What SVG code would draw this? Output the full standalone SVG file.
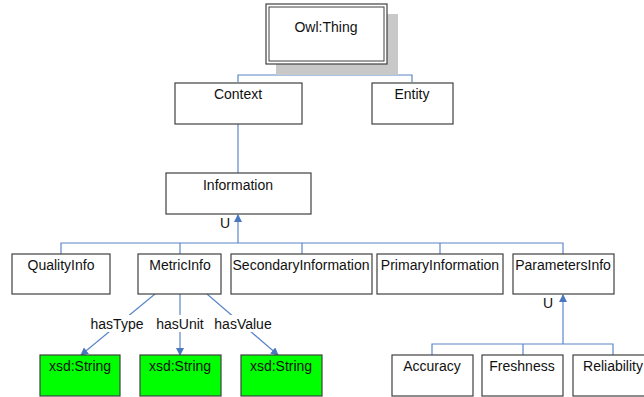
<svg xmlns="http://www.w3.org/2000/svg" width="644" height="397" viewBox="0 0 644 397">
<defs>
<style>
.box{fill:#fff;stroke:#404040;stroke-width:1.2}
.green{fill:#00ff00;stroke:#404040;stroke-width:1.2}
.t{font-family:"Liberation Sans",Arial,sans-serif;font-size:14px;fill:#111;text-anchor:middle}
.lbl{font-family:"Liberation Sans",Arial,sans-serif;font-size:14px;fill:#111;text-anchor:middle}
.c{fill:none;stroke:#5b86c8;stroke-width:1.2}
</style>
<marker id="ah" markerWidth="8" markerHeight="8" refX="7" refY="4" orient="auto" markerUnits="userSpaceOnUse">
<path d="M0,0 L8,4 L0,8 Z" fill="#4a78c0"/>
</marker>
</defs>
<rect width="644" height="397" fill="#fff"/>
<g id="connectors">
<polyline class="c" points="238,82 238,75 412,75 412,82"/>
<line class="c" x1="326" y1="75" x2="326" y2="65" marker-end="url(#ah)"/>
<line class="c" x1="238" y1="124" x2="238" y2="173"/>
<polyline class="c" points="61,254 61,243 563,243 563,254"/>
<line class="c" x1="180" y1="243" x2="180" y2="254"/>
<line class="c" x1="302" y1="243" x2="302" y2="254"/>
<line class="c" x1="440" y1="243" x2="440" y2="254"/>
<line class="c" x1="238" y1="243" x2="238" y2="215" marker-end="url(#ah)"/>
<polyline class="c" points="432,355 432,344 613,344 613,355"/>
<line class="c" x1="523" y1="344" x2="523" y2="355"/>
<line class="c" x1="563" y1="344" x2="563" y2="295" marker-end="url(#ah)"/>
<line class="c" x1="155" y1="294" x2="81" y2="355" marker-end="url(#ah)"/>
<line class="c" x1="180" y1="294" x2="180" y2="355" marker-end="url(#ah)"/>
<line class="c" x1="207" y1="294" x2="278" y2="355" marker-end="url(#ah)"/>
<rect x="88" y="315" width="58" height="17" fill="#fff"/>
<rect x="154" y="315" width="52" height="17" fill="#fff"/>
<rect x="212" y="315" width="62" height="17" fill="#fff"/>
<text class="lbl" x="117" y="329">hasType</text>
<text class="lbl" x="180" y="329">hasUnit</text>
<text class="lbl" x="243" y="329">hasValue</text>
<text class="lbl" x="225" y="228">U</text>
<text class="lbl" x="548" y="308">U</text>
</g>
<g id="owlthing">
<rect x="276" y="14" width="122" height="61" fill="#c8c8c8"/>
<rect class="box" x="266" y="4" width="121" height="60"/>
<rect x="269" y="7" width="115" height="54" fill="none" stroke="#404040" stroke-width="1"/>
<text class="t" x="326" y="32">Owl:Thing</text>
</g>
<g id="context"><rect class="box" x="175" y="83" width="127" height="41"/><text class="t" x="238" y="99">Context</text></g>
<g id="entity"><rect class="box" x="372" y="83" width="81" height="41"/><text class="t" x="412" y="99">Entity</text></g>
<g id="information"><rect class="box" x="166" y="173" width="145" height="41"/><text class="t" x="238" y="190">Information</text></g>
<g id="qualityinfo"><rect class="box" x="12" y="254" width="98" height="40"/><text class="t" x="61" y="270">QualityInfo</text></g>
<g id="metricinfo"><rect class="box" x="138" y="254" width="83" height="40"/><text class="t" x="180" y="270">MetricInfo</text></g>
<g id="secondaryinformation"><rect class="box" x="231" y="254" width="141" height="40"/><text class="t" x="301" y="270">SecondaryInformation</text></g>
<g id="primaryinformation"><rect class="box" x="377" y="254" width="126" height="40"/><text class="t" x="440" y="270">PrimaryInformation</text></g>
<g id="parametersinfo"><rect class="box" x="513" y="254" width="101" height="40"/><text class="t" x="563" y="270">ParametersInfo</text></g>
<g id="xsd1"><rect class="green" x="40" y="355" width="80" height="41"/><text class="t" x="80" y="371">xsd:String</text></g>
<g id="xsd2"><rect class="green" x="140" y="355" width="81" height="41"/><text class="t" x="180" y="371">xsd:String</text></g>
<g id="xsd3"><rect class="green" x="241" y="355" width="81" height="41"/><text class="t" x="281" y="371">xsd:String</text></g>
<g id="accuracy"><rect class="box" x="392" y="355" width="81" height="41"/><text class="t" x="432" y="371">Accuracy</text></g>
<g id="freshness"><rect class="box" x="482" y="355" width="81" height="41"/><text class="t" x="522" y="371">Freshness</text></g>
<g id="reliability"><rect class="box" x="573" y="355" width="80" height="41"/><text class="t" x="613" y="371">Reliability</text></g>
</svg>
